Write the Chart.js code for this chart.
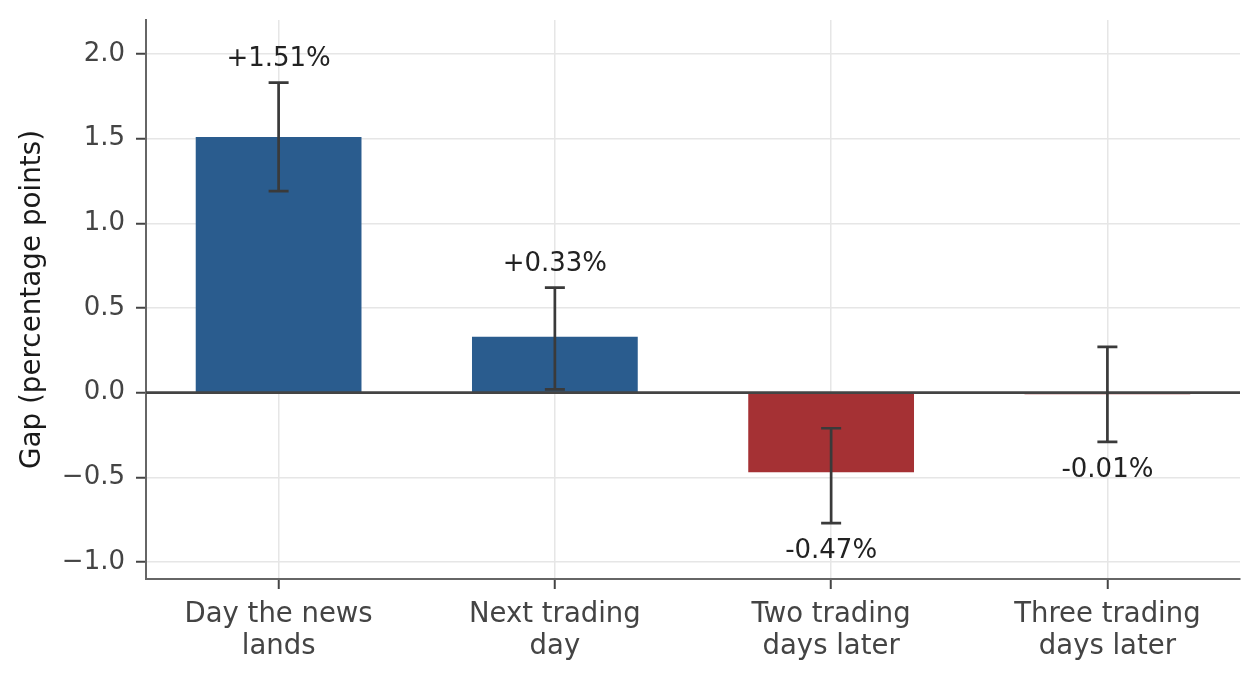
<!DOCTYPE html>
<html lang="en">
<head>
    <meta charset="UTF-8">
    <title>Gap by trading day</title>
    <script src="https://cdn.jsdelivr.net/npm/chart.js"></script>
    <style>
        html, body {
            margin: 0;
            padding: 0;
            background: #ffffff;
            overflow: hidden;
        }
        #wrap {
            width: 1260px;
            height: 680px;
        }
    </style>
</head>
<body>
    <div id="wrap"><canvas id="gapChart" width="1260" height="680"></canvas></div>
    <script>
        // values
        const categories = [
            ['Day the news', 'lands'],
            ['Next trading', 'day'],
            ['Two trading', 'days later'],
            ['Three trading', 'days later']
        ];
        const gapValues = [1.51, 0.33, -0.47, -0.01];
        const errLow = [1.19, 0.02, -0.77, -0.29];
        const errHigh = [1.83, 0.62, -0.21, 0.27];
        const yTicks = [-1.0, -0.5, 0.0, 0.5, 1.0, 1.5, 2.0];

        const FONT = '"DejaVu Sans", "Liberation Sans", sans-serif';

        // zero line, error bars and value labels on top of the bars
        const errorBarPlugin = {
            id: 'errorBars',
            afterDatasetsDraw(chart) {
                const { ctx, chartArea, scales: { x, y } } = chart;
                ctx.save();
                const y0 = y.getPixelForValue(0);
                ctx.strokeStyle = '#444444';
                ctx.lineWidth = 2.6;
                ctx.beginPath();
                ctx.moveTo(chartArea.left, y0);
                ctx.lineTo(chartArea.right, y0);
                ctx.stroke();

                ctx.strokeStyle = '#3a3a3a';
                ctx.lineWidth = 2.7;
                ctx.font = '26px ' + FONT;
                ctx.fillStyle = '#222222';
                ctx.textAlign = 'center';
                ctx.textBaseline = 'middle';
                gapValues.forEach((v, i) => {
                    const px = x.getPixelForValue(i);
                    const top = y.getPixelForValue(errHigh[i]);
                    const bot = y.getPixelForValue(errLow[i]);
                    ctx.beginPath();
                    ctx.moveTo(px, top);
                    ctx.lineTo(px, bot);
                    ctx.moveTo(px - 10, top);
                    ctx.lineTo(px + 10, top);
                    ctx.moveTo(px - 10, bot);
                    ctx.lineTo(px + 10, bot);
                    ctx.stroke();
                    const label = (v > 0 ? '+' : '') + v.toFixed(2) + '%';
                    ctx.fillText(label, px, v >= 0 ? top - 23 : bot + 28);
                });
                ctx.restore();
            }
        };

        function noPadding(scale) {
            scale.paddingTop = 0;
            scale.paddingBottom = 0;
            scale.paddingLeft = 0;
            scale.paddingRight = 0;
        }

        const ctx = document.getElementById('gapChart').getContext('2d');
        new Chart(ctx, {
            type: 'bar',
            data: {
                datasets: [{
                    data: gapValues.map((v, i) => ({ x: i, y: v })),
                    backgroundColor: gapValues.map(v => v >= 0 ? '#2a5c8e' : '#a53134'),
                    borderWidth: 0,
                    categoryPercentage: 1.0,
                    barPercentage: 0.6
                }]
            },
            options: {
                responsive: false,
                devicePixelRatio: 1,
                animation: false,
                layout: {
                    padding: { top: 20, right: 20, left: 0, bottom: 0 }
                },
                plugins: {
                    legend: { display: false },
                    tooltip: { enabled: false }
                },
                scales: {
                    x: {
                        type: 'linear',
                        min: -0.48,
                        max: 3.48,
                        offset: false,
                        afterFit(scale) {
                            scale.height = 101;
                            noPadding(scale);
                        },
                        afterBuildTicks(scale) {
                            scale.ticks = categories.map((_, i) => ({ value: i }));
                        },
                        grid: {
                            offset: false,
                            color: '#e6e6e6',
                            lineWidth: 1.5,
                            tickColor: '#444444',
                            tickWidth: 2,
                            tickLength: 10
                        },
                        border: { display: true, color: '#666666', width: 2 },
                        ticks: {
                            color: '#444444',
                            padding: 10,
                            maxRotation: 0,
                            font: { family: FONT, size: 27.5, lineHeight: 1.15 },
                            callback: value => categories[value]
                        }
                    },
                    y: {
                        min: -1.1,
                        max: 2.2,
                        afterFit(scale) {
                            scale.width = 146;
                            noPadding(scale);
                        },
                        afterBuildTicks(scale) {
                            scale.ticks = yTicks.map(v => ({ value: v }));
                        },
                        grid: {
                            color: '#e6e6e6',
                            lineWidth: 1.5,
                            tickColor: '#444444',
                            tickWidth: 2,
                            tickLength: 10
                        },
                        border: { display: true, color: '#666666', width: 2 },
                        ticks: {
                            color: '#444444',
                            padding: 11,
                            font: { family: FONT, size: 26 },
                            callback: value => value.toFixed(1).replace('-', '\u2212')
                        },
                        title: {
                            display: true,
                            text: 'Gap (percentage points)',
                            color: '#1a1a1a',
                            padding: { top: 16, bottom: 0 },
                            font: { family: FONT, size: 27.8 }
                        }
                    }
                }
            },
            plugins: [errorBarPlugin]
        });
    </script>
</body>
</html>
